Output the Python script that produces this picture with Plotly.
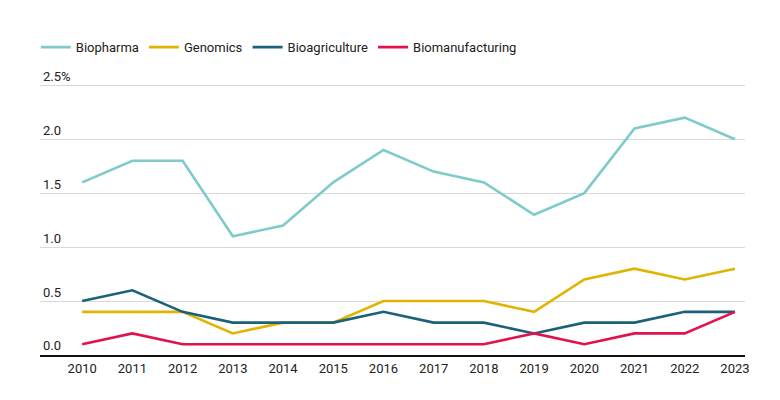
import plotly.graph_objects as go

# Data (share, %)
years = list(range(2010, 2024))
biopharma = [1.6, 1.8, 1.8, 1.1, 1.2, 1.6, 1.9, 1.7, 1.6, 1.3, 1.5, 2.1, 2.2, 2.0]
genomics = [0.4, 0.4, 0.4, 0.2, 0.3, 0.3, 0.5, 0.5, 0.5, 0.4, 0.7, 0.8, 0.7, 0.8]
bioagriculture = [0.5, 0.6, 0.4, 0.3, 0.3, 0.3, 0.4, 0.3, 0.3, 0.2, 0.3, 0.3, 0.4, 0.4]
biomanufacturing = [0.1, 0.2, 0.1, 0.1, 0.1, 0.1, 0.1, 0.1, 0.1, 0.2, 0.1, 0.2, 0.2, 0.4]

y_ticks = [0, 0.5, 1.0, 1.5, 2.0, 2.5]
y_tick_labels = ["0.0", "0.5", "1.0", "1.5", "2.0", "2.5%"]

series = [
    ("Biopharma", biopharma, "#7fcbc9"),
    ("Genomics", genomics, "#e0b400"),
    ("Bioagriculture", bioagriculture, "#1b6179"),
    ("Biomanufacturing", biomanufacturing, "#e2124d"),
]

fig = go.Figure()
for name, values, color in series:
    fig.add_trace(go.Scatter(x=years, y=values, name=name, mode="lines",
                             line=dict(color=color, width=2.6)))

# page body has an 8px margin, so the figure is a bit smaller than the window
fig.update_layout(
    width=772, height=392,
    margin=dict(l=32, r=35, t=60, b=45, autoexpand=False),
    paper_bgcolor="white", plot_bgcolor="white",
    font=dict(family="Roboto, sans-serif", size=13, color="#222222"),
    legend=dict(orientation="h", x=0.036, xref="container", xanchor="left",
                y=0.9, yref="container", yanchor="middle",
                font=dict(size=13), traceorder="normal"),
    showlegend=True,
)

fig.update_xaxes(range=[2009.16, 2023.2], tickvals=years, showgrid=False,
                 showline=True, linecolor="#111111", linewidth=2, automargin=False,
                 ticks="", tickfont=dict(size=13, color="#222222"), zeroline=False)
fig.update_yaxes(range=[0, 2.66], tickvals=y_ticks, ticktext=y_tick_labels,
                 ticklabelposition="inside top", showgrid=True, automargin=False,
                 gridcolor="#d9d9d9", gridwidth=1, zeroline=False,
                 tickfont=dict(size=13, color="#222222"), ticks="")

fig.write_html("out.html")
